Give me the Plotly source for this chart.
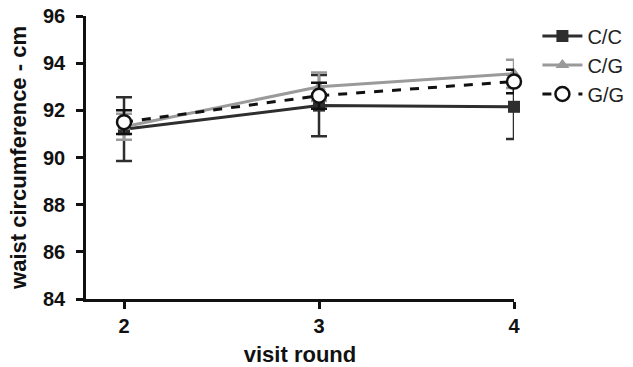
import plotly.graph_objects as go

visits = [2, 3, 4]
cc_mean = [91.2, 92.2, 92.15]
cc_err = [1.35, 1.3, 1.37]
cg_mean = [91.3, 93.0, 93.55]
cg_err = [0.55, 0.6, 0.6]
gg_mean = [91.5, 92.62, 93.22]
gg_err = [0.5, 0.55, 0.5]
y_ticks = [84, 86, 88, 90, 92, 94, 96]

FONT = "Liberation Sans, Arial, sans-serif"

fig = go.Figure()
fig.add_trace(go.Scatter(
    x=visits, y=cc_mean, name="C/C", mode="lines+markers",
    line=dict(color="#2e2e2e", width=3),
    marker=dict(symbol="square", size=12, color="#2e2e2e"),
    error_y=dict(type="data", array=cc_err, color="#2e2e2e", thickness=2.5, width=8),
    cliponaxis=False,
))
fig.add_trace(go.Scatter(
    x=visits, y=cg_mean, name="C/G", mode="lines+markers",
    line=dict(color="#9a9a9a", width=3),
    marker=dict(symbol="triangle-up", size=12, color="#9a9a9a"),
    error_y=dict(type="data", array=cg_err, color="#9a9a9a", thickness=2.5, width=8),
    cliponaxis=False,
))
fig.add_trace(go.Scatter(
    x=visits, y=gg_mean, name="G/G", mode="lines+markers",
    line=dict(color="#111111", width=3, dash="dash"),
    marker=dict(symbol="circle", size=14, color="white", line=dict(color="#111111", width=2.5)),
    error_y=dict(type="data", array=gg_err, color="#111111", thickness=2.5, width=8),
    cliponaxis=False,
))

fig.update_layout(
    width=633, height=367,
    margin=dict(l=86, r=119, t=16, b=68),
    paper_bgcolor="white", plot_bgcolor="white",
    font=dict(family=FONT, color="#111111"),
    showlegend=True,
    legend=dict(xref="container", yref="container", x=0.849, y=0.955,
                xanchor="left", yanchor="top",
                font=dict(size=20, color="#222222"), tracegroupgap=0,
                itemwidth=40, bgcolor="rgba(0,0,0,0)"),
)
fig.update_xaxes(
    range=[1.805, 4], tickvals=visits, ticktext=[f"<b>{v}</b>" for v in visits],
    showgrid=False, zeroline=False, showline=True, linecolor="#111111", linewidth=2.5,
    ticks="outside", ticklen=7, tickwidth=2.5, tickcolor="#111111",
    tickfont=dict(size=20), automargin=False,
    title=dict(text="<b>visit round</b>", font=dict(size=22), standoff=11),
)
fig.update_yaxes(
    range=[84, 96], tickvals=y_ticks, ticktext=[f"<b>{v}</b>" for v in y_ticks],
    showgrid=False, zeroline=False, showline=True, linecolor="#111111", linewidth=2.5,
    ticks="outside", ticklen=7, tickwidth=2.5, tickcolor="#111111",
    tickfont=dict(size=20), ticklabelstandoff=7, automargin=False,
    title=dict(text="<b>waist circumference - cm</b>", font=dict(size=22), standoff=11),
)

# remove the default 8px page margin so the figure fills the window exactly
fig.write_html("out.html", config={"displayModeBar": False},
               post_script="document.body.style.margin='0';")
